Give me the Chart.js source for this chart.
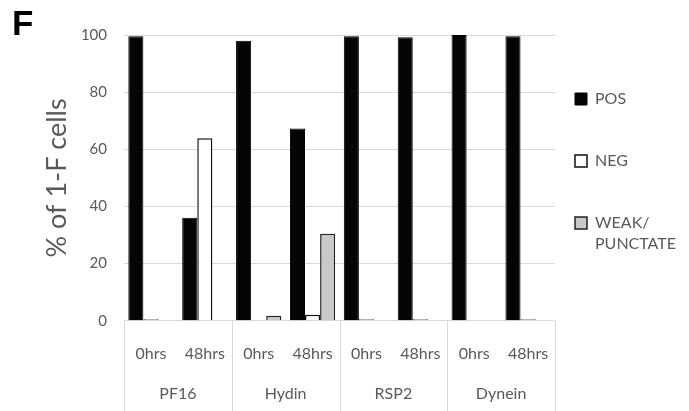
<!DOCTYPE html>
<html>
<head>
<meta charset="utf-8">
<script src="https://cdn.jsdelivr.net/npm/chart.js@4.4.1/dist/chart.umd.min.js"></script>
<style>
  html, body { margin: 0; padding: 0; background: #fff; }
  #wrap { width: 689px; height: 411px; }
</style>
</head>
<body>
<div id="wrap"><canvas id="chart"></canvas></div>
<script>
  const timepoints = ["0hrs", "48hrs", "0hrs", "48hrs", "0hrs", "48hrs", "0hrs", "48hrs"];
  const proteins = ["PF16", "Hydin", "RSP2", "Dynein"];
  const posValues = [99.6, 36.1, 98.0, 67.3, 99.6, 99.2, 100, 99.6];
  const negValues = [0.5, 63.9, 0, 2.1, 0.5, 0.5, 0, 0.5];
  const weakValues = [0, 0, 1.8, 30.5, 0, 0, 0, 0];
  const yTicks = [0, 20, 40, 60, 80, 100];

  Chart.defaults.font.family = "Lato";
  Chart.defaults.color = "#595959";

  // vertical separators between the protein groups, below the plot
  const groupLines = {
    id: "groupLines",
    afterDraw(chart) {
      const x = chart.scales.x;
      const ctx = chart.ctx;
      ctx.save();
      ctx.strokeStyle = "#d9d9d9";
      ctx.lineWidth = 1;
      for (let g = 0; g <= proteins.length; g++) {
        const px = Math.round(x.getPixelForValue(g * 2 - 0.5)) + 0.5;
        ctx.beginPath();
        ctx.moveTo(px, x.top);
        ctx.lineTo(px, chart.height);
        ctx.stroke();
      }
      ctx.restore();
    }
  };

  new Chart(document.getElementById("chart"), {
    type: "bar",
    data: {
      labels: timepoints,
      datasets: [
        {
          label: ["POS", ""],
          data: posValues,
          backgroundColor: "#050505",
          borderColor: "#000",
          borderWidth: 1
        },
        {
          label: ["NEG", ""],
          data: negValues,
          backgroundColor: "#fff",
          borderColor: "#111",
          borderWidth: 1.5
        },
        {
          label: ["WEAK/", "PUNCTATE"],
          data: weakValues,
          backgroundColor: "#c8c8c8",
          borderColor: "#222",
          borderWidth: 1.5
        }
      ]
    },
    options: {
      responsive: true,
      maintainAspectRatio: false,
      animation: false,
      datasets: { bar: { categoryPercentage: 0.84, barPercentage: 1 } },
      layout: { padding: { top: 0, left: 12, right: 3, bottom: 9 } },
      plugins: {
        tooltip: { enabled: false },
        title: {
          display: true,
          text: "F",
          align: "start",
          color: "#000",
          font: { family: "Liberation Sans", size: 35, weight: "bold", lineHeight: 1 },
          padding: { top: 8, bottom: -8 }
        },
        legend: {
          position: "right",
          fullSize: false,
          align: "start",
          // empty title only keeps the items down at the height they have in the figure
          title: { display: true, text: "", font: { size: 30, lineHeight: 1.2 }, padding: 0 },
          labels: {
            boxWidth: 12,
            boxHeight: 12,
            padding: 20,
            color: "#595959",
            font: { size: 16, lineHeight: "21px" }
          }
        }
      },
      scales: {
        x: {
          weight: 0,
          grid: { display: false, drawTicks: false },
          border: { display: false },
          ticks: { font: { size: 16 }, padding: 23, maxRotation: 0, autoSkip: false }
        },
        x2: {
          type: "category",
          labels: proteins,
          position: "bottom",
          weight: 1,
          offset: true,
          grid: { display: false, drawTicks: false },
          border: { display: false },
          ticks: { font: { size: 16, lineHeight: 1 }, padding: 0, maxRotation: 0 }
        },
        y: {
          min: 0,
          max: 100,
          afterBuildTicks: (scale) => { scale.ticks = yTicks.map(v => ({ value: v })); },
          grid: { color: "#d9d9d9", drawTicks: false },
          border: { display: false },
          ticks: { font: { size: 15 }, padding: 17 },
          title: {
            display: true,
            text: "% of 1-F cells",
            color: "#595959",
            font: { size: 27 },
            padding: { top: 29, bottom: -9.5 }
          }
        }
      }
    },
    plugins: [groupLines]
  });
</script>
</body>
</html>
